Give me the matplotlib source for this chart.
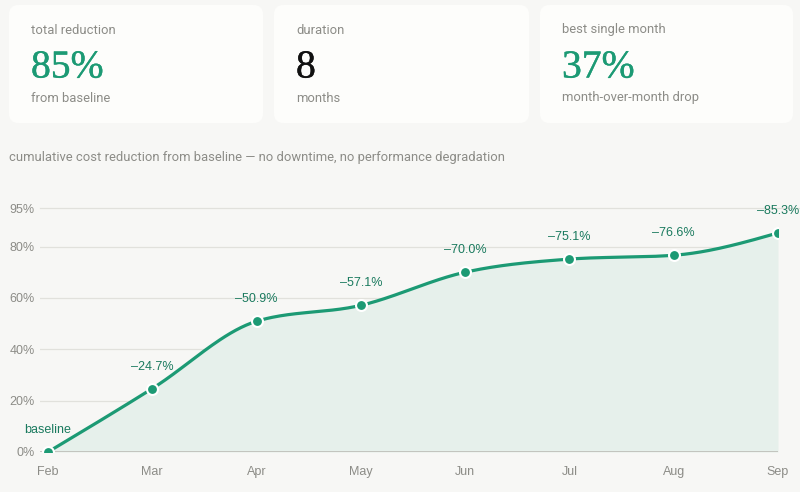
import numpy as np
import matplotlib
matplotlib.use("Agg")
import matplotlib.pyplot as plt
import matplotlib.patheffects as pe
from matplotlib.patches import FancyBboxPatch

# ---- data ----
months = ["Feb", "Mar", "Apr", "May", "Jun", "Jul", "Aug", "Sep"]
reduction = [0.0, 24.7, 50.9, 57.1, 70.0, 75.1, 76.6, 85.3]
point_labels = ["baseline", "\u201324.7%", "\u201350.9%", "\u201357.1%", "\u201370.0%",
                "\u201375.1%", "\u201376.6%", "\u201385.3%"]
y_ticks = [0, 20, 40, 60, 80, 95]
y_tick_labels = ["0%", "20%", "40%", "60%", "80%", "95%"]

card_titles = ["total reduction", "duration", "best single month"]
card_values = ["85%", "8", "37%"]
card_subs = ["from baseline", "months", "month-over-month drop"]
card_value_colors = ["#1c9a74", "#111111", "#1c9a74"]
subtitle = "cumulative cost reduction from baseline \u2014 no downtime, no performance degradation"

# ---- style ----
W, H = 800, 492
BG = "#f7f7f5"
CARD = "#fdfdfb"
GREEN = "#1c9a74"
FILL = "#e6f0eb"
GRID = "#e1e1dc"
MUTED = "#8c8c87"
SANS = "Roboto"

fig = plt.figure(figsize=(W / 100, H / 100), dpi=100, facecolor=BG)


def fx(x):
    return x / W


def fy(y):
    return 1 - y / H


# cards
card_boxes = [(9, 5, 263, 123), (274, 5, 529, 123), (540, 5, 793, 123)]
for (x0, y0, x1, y1), t, v, s, c in zip(card_boxes, card_titles, card_values, card_subs, card_value_colors):
    patch = FancyBboxPatch((fx(x0), fy(y1)), fx(x1 - x0), (y1 - y0) / H,
                           boxstyle="round,pad=0,rounding_size=0.012",
                           transform=fig.transFigure, facecolor=CARD, edgecolor="none",
                           mutation_aspect=W / H)
    fig.patches.append(patch)
    tx = x0 + 22
    fig.text(fx(tx), fy(30), t, fontsize=9.4, color=MUTED, family=SANS, va="center", ha="left")
    fig.text(fx(tx), fy(77.5), v, fontsize=28.5, color=c, family="Liberation Serif", va="baseline", ha="left",
             path_effects=[pe.Stroke(linewidth=0.3, foreground=c), pe.Normal()])
    fig.text(fx(tx), fy(98), s, fontsize=9.4, color=MUTED, family=SANS, va="center", ha="left")

fig.text(fx(9), fy(157), subtitle, fontsize=9.4, color=MUTED, family=SANS, va="center", ha="left")

# axes
ax_left, ax_right, ax_top, ax_bottom = 40, 778, 208, 452
ax = fig.add_axes([fx(ax_left), fy(ax_bottom), (ax_right - ax_left) / W, (ax_bottom - ax_top) / H])
ax.set_facecolor("none")

x = np.arange(len(months), dtype=float)
y = np.array(reduction)


# monotone cubic (d3 curveMonotoneX) for smooth drawing
def monotone(xs, ys, n=40):
    h = np.diff(xs)
    s = np.diff(ys) / h
    m = np.zeros_like(ys)
    for i in range(1, len(ys) - 1):
        p = (s[i - 1] * h[i] + s[i] * h[i - 1]) / (h[i - 1] + h[i])
        m[i] = (np.sign(s[i - 1]) + np.sign(s[i])) * min(abs(s[i - 1]), abs(s[i]), 0.5 * abs(p))
    m[0] = (3 * s[0] - m[1]) / 2
    m[-1] = (3 * s[-1] - m[-2]) / 2
    X, Y = [], []
    for i in range(len(xs) - 1):
        t = np.linspace(0, 1, n, endpoint=(i == len(xs) - 2))
        h00 = 2 * t**3 - 3 * t**2 + 1
        h10 = t**3 - 2 * t**2 + t
        h01 = -2 * t**3 + 3 * t**2
        h11 = t**3 - t**2
        X.append(xs[i] + t * h[i])
        Y.append(h00 * ys[i] + h10 * h[i] * m[i] + h01 * ys[i + 1] + h11 * h[i] * m[i + 1])
    return np.concatenate(X), np.concatenate(Y)


sx, sy = monotone(x, y)
ax.fill_between(sx, 0, sy, color=FILL, linewidth=0, zorder=1)
ax.plot(sx, sy, color=GREEN, linewidth=2.3, zorder=3, solid_capstyle="round")
ax.scatter(x, y, s=62, color=GREEN, edgecolor="white", linewidth=1.5, zorder=4)

for xi, yi, lab in zip(x, y, point_labels):
    ax.annotate(lab, (xi, yi), xytext=(0, 16), textcoords="offset pixels",
                ha="center", va="bottom", fontsize=9, color="#1a7a5e",
                family="Liberation Sans", annotation_clip=False, zorder=5)

ax.set_xlim(-(48 - ax_left) / ((ax_right - 48) / 7), 7)
ax.set_ylim(0, 95)
for sp in ax.spines.values():
    sp.set_visible(False)
ax.set_yticks(y_ticks)
ax.set_yticklabels(y_tick_labels)
ax.set_xticks(x)
ax.set_xticklabels(months)
ax.tick_params(length=0, labelsize=9, labelcolor=MUTED, pad=4)
ax.tick_params(axis="x", pad=10)
for lab in ax.get_xticklabels() + ax.get_yticklabels():
    lab.set_family("Liberation Sans")
for yt in y_ticks[1:-1]:
    ax.axhline(yt, color=GRID, linewidth=0.9, zorder=0)
ax.axhline(0, color="#bdbdb7", linewidth=1.2, zorder=2)
# top gridline runs to figure edge
ax.plot([ax.get_xlim()[0], 7.3], [95, 95], color=GRID, linewidth=0.9, zorder=0, clip_on=False)

fig.savefig("out.png", dpi=100, facecolor=BG)
